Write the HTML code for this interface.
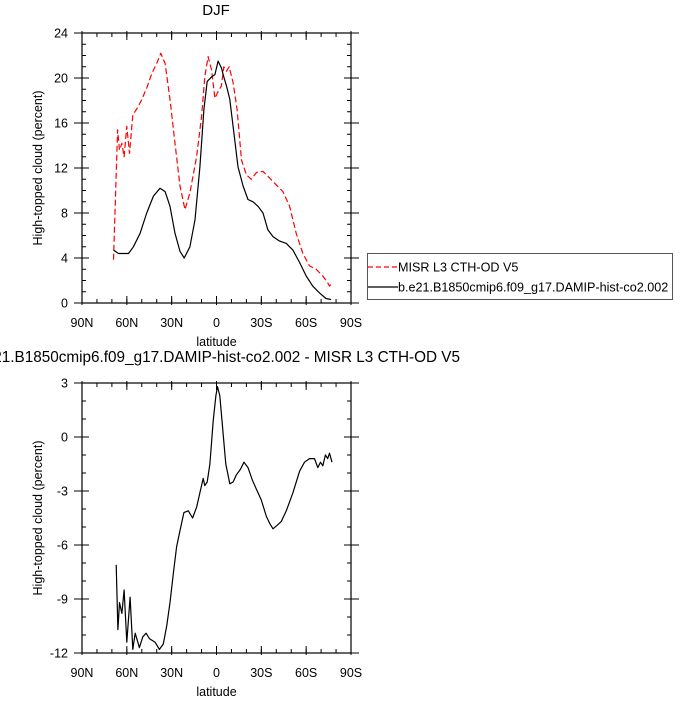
<!DOCTYPE html>
<html><head><meta charset="utf-8"><style>
body{margin:0;background:#fff;width:700px;height:700px;overflow:hidden}
svg{font-family:"Liberation Sans",Arial,sans-serif}
</style></head><body>
<svg id="s" width="700" height="700" xmlns="http://www.w3.org/2000/svg"></svg>
<script>
const xTickLats=[90,60,30,0,-30,-60,-90];
const xTickLabels=["90N","60N","30N","0","30S","60S","90S"];
const topYTicks=[0,4,8,12,16,20,24];
const botYTicks=[-12,-9,-6,-3,0,3];
const misrLat=[68.9,66.2,64.9,63.3,61.8,60,58.2,56,52.2,50,46.7,43.3,40,37.3,34.4,31.1,27.8,24.4,21.1,17.8,13.3,10,7.8,5.6,3.3,1.1,-1.1,-3.3,-4.9,-6.7,-8.4,-11.1,-13.8,-16.7,-20,-23.3,-26.7,-31.1,-35.6,-40,-44.4,-48.9,-53.3,-57.8,-62.2,-66.7,-71.1,-74.4,-75.6,-77.3];
const misrVal=[3.85,15.4,13.6,14.2,13.0,15.7,13.3,16.7,17.5,18.1,19.1,20.4,21.3,22.2,21.3,18.1,14.2,10.4,8.3,9.8,13.0,16.6,20.1,21.9,20.7,18.2,18.8,19.3,21.0,20.6,21.0,19.6,17.2,12.7,11.4,11.0,11.6,11.7,11.1,10.5,9.9,8.6,6.2,4.4,3.3,3.0,2.4,1.8,1.5,1.8];
const modelLat=[68.9,65.6,62.2,58.9,55.6,51.1,46.7,42.2,37.8,34.4,31.1,27.8,24.4,21.6,17.8,14.4,11.1,8.4,6.2,3.3,1.1,-1.1,-3.3,-4.9,-6.7,-8.9,-11.1,-14.4,-17.8,-21.1,-24.4,-27.8,-31.1,-34.4,-37.8,-42.2,-46.7,-51.1,-55.6,-60,-64.4,-68.9,-73.3,-76.7];
const modelVal=[4.7,4.4,4.4,4.4,5.0,6.2,8.0,9.5,10.2,9.9,8.6,6.2,4.6,4.0,5.0,7.4,12.1,17.2,19.7,20.1,20.3,21.5,20.9,20.1,19.3,18.1,15.7,12.1,10.4,9.2,9.0,8.6,8.0,6.5,5.9,5.5,5.3,4.7,3.6,2.4,1.5,0.9,0.4,0.3];
const diffLat=[67.1,66,64.9,63.3,61.8,60,57.8,56,54.4,51.6,49.3,47.1,44.9,41.1,38.2,35.6,33.3,31.1,28.9,26.7,24.4,21.8,18.9,16,13.3,11.1,8.9,7.8,6.2,4.4,2.2,0.4,-0.7,-2.2,-4.4,-6.2,-8.9,-11.1,-13.3,-16,-18.4,-21.1,-24,-26.7,-30,-33.3,-35.6,-37.8,-40.7,-43.3,-46.7,-51.1,-55.6,-58.9,-62.2,-65.6,-67.8,-69.6,-71.1,-72.9,-74.4,-75.6,-77.3];
const diffVal=[-7.1,-10.7,-9.2,-9.8,-8.5,-11.4,-8.9,-11.8,-10.9,-11.7,-11.1,-10.9,-11.2,-11.4,-11.8,-11.5,-10.5,-9.2,-7.6,-6.1,-5.2,-4.2,-4.1,-4.5,-3.9,-3.1,-2.3,-2.7,-2.5,-1.5,0.9,2.3,2.8,2.3,0.2,-1.5,-2.6,-2.5,-2.1,-1.8,-1.4,-1.7,-2.4,-2.9,-3.5,-4.4,-4.8,-5.1,-4.9,-4.7,-4.1,-3.1,-1.9,-1.4,-1.2,-1.2,-1.7,-1.4,-1.6,-1.0,-1.2,-0.9,-1.4];

const NS='http://www.w3.org/2000/svg';
const svg=document.getElementById('s');
function mk(tag,attrs,parent){const e=document.createElementNS(NS,tag);for(const k in attrs)e.setAttribute(k,attrs[k]);(parent||svg).appendChild(e);return e;}
const L=82,R=351;
const xs=lat=>L+(90-lat)/180*(R-L);

function panel(top,bot,ymin,ymax,yticks,minorStep,name){
  const g=mk('g',{});
  
  
  const ys=v=>bot-(v-ymin)/(ymax-ymin)*(bot-top);
  for(let lat=90;lat>=-90;lat-=10){const x=xs(lat);
    mk('line',{x1:x,x2:x,y1:bot,y2:bot-4,stroke:'#000','stroke-width':1},g);
    mk('line',{x1:x,x2:x,y1:top,y2:top+4,stroke:'#000','stroke-width':1},g);}
  for(let v=ymin;v<=ymax+1e-9;v+=minorStep){const y=ys(v);
    mk('line',{x1:L,x2:L+4,y1:y,y2:y,stroke:'#000','stroke-width':1},g);
    mk('line',{x1:R,x2:R-4,y1:y,y2:y,stroke:'#000','stroke-width':1},g);}
  xTickLats.forEach((lat,i)=>{const x=xs(lat);
    mk('line',{x1:x,x2:x,y1:bot+2,y2:bot-7,stroke:'#000','stroke-width':1},g);
    mk('line',{x1:x,x2:x,y1:top-2,y2:top+7,stroke:'#000','stroke-width':1},g);
    const t=mk('text',{x:x,y:bot+24,'font-size':12.5,'text-anchor':'middle'},g);t.textContent=xTickLabels[i];
    
    });
  yticks.forEach(v=>{const y=ys(v);
    mk('line',{x1:L-8,x2:L+7,y1:y,y2:y,stroke:'#000','stroke-width':1},g);
    mk('line',{x1:R+8,x2:R-7,y1:y,y2:y,stroke:'#000','stroke-width':1},g);
    const t=mk('text',{x:L-14,y:y+4.5,'font-size':12.5,'text-anchor':'end'},g);t.textContent=v;
    
    });
  mk('rect',{x:L,y:top,width:R-L,height:bot-top,fill:'none',stroke:'#000','stroke-width':1.2},g);
  const xt=mk('text',{x:(L+R)/2,y:bot+43,'font-size':12.5,'text-anchor':'middle'},g);xt.textContent='latitude';
  
  
  const yt=mk('text',{x:0,y:0,'font-size':12.5,'text-anchor':'middle',transform:`translate(42,${(top+bot)/2}) rotate(-90)`},g);yt.textContent='High-topped cloud (percent)';
  
  
  return ys;
}
function line(lats,vals,ys,attrs,name){
  const d=lats.map((la,i)=>(i?'L':'M')+xs(la).toFixed(1)+','+ys(vals[i]).toFixed(1)).join('');
  const p=mk('path',Object.assign({d:d,fill:'none','stroke-linejoin':'round'},attrs));
  
  
}
const ysTop=panel(33,303,0,24,topYTicks,1,'top-panel');
line(misrLat,misrVal,ysTop,{stroke:'#ff0000','stroke-width':1.2,'stroke-dasharray':'6,3'},'misr-line');
line(modelLat,modelVal,ysTop,{stroke:'#000','stroke-width':1.2},'model-line');
const ysBot=panel(383,653,-12,3,botYTicks,1,'bottom-panel');
line(diffLat,diffVal,ysBot,{stroke:'#000','stroke-width':1.2},'difference-line');

let t=mk('text',{x:216,y:15,'font-size':15,'text-anchor':'middle'});t.textContent='DJF';


t=mk('text',{x:216,y:362,'font-size':15.3,'text-anchor':'middle'});t.textContent='b.e21.B1850cmip6.f09_g17.DAMIP-hist-co2.002 - MISR L3 CTH-OD V5';



const lg=mk('g',{});


mk('rect',{x:367.5,y:253.5,width:305,height:46,fill:'#fff',stroke:'#555','stroke-width':1},lg);
mk('line',{x1:368,x2:398,y1:267,y2:267,stroke:'#ff0000','stroke-width':1.2,'stroke-dasharray':'5,3'},lg);
mk('line',{x1:368,x2:398,y1:287,y2:287,stroke:'#000','stroke-width':1.2},lg);
t=mk('text',{x:398,y:271.5,'font-size':12.6},lg);t.textContent='MISR L3 CTH-OD V5';


t=mk('text',{x:398,y:291.5,'font-size':12.6},lg);t.textContent='b.e21.B1850cmip6.f09_g17.DAMIP-hist-co2.002';


</script>
</body></html>
